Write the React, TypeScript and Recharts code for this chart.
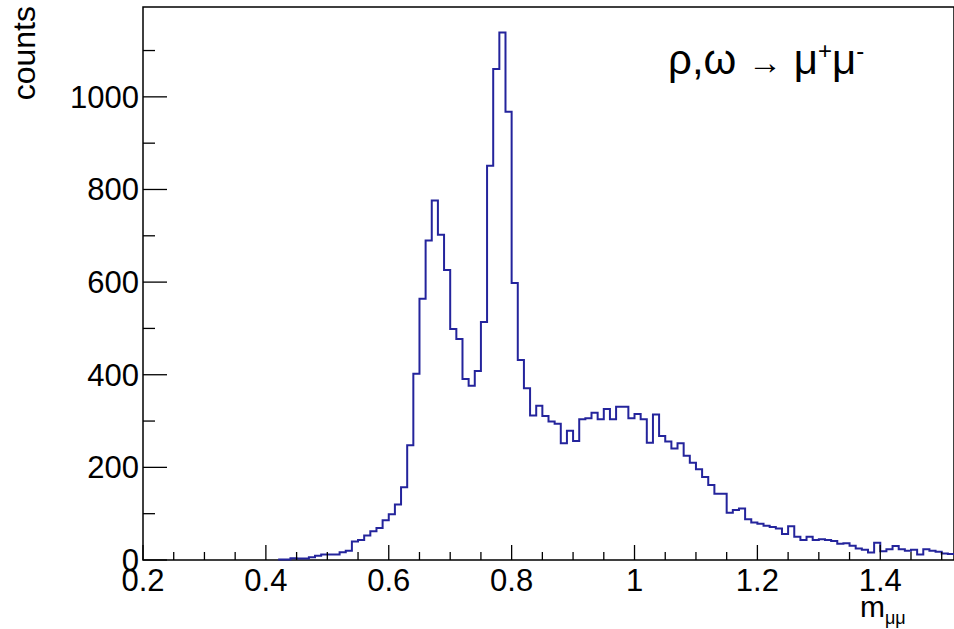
import { LineChart, Line, XAxis, YAxis, ReferenceArea } from "recharts";

// bin lower edges start at 0.42, width 0.01
const binStart = 0.42;
const binWidth = 0.01;
const counts = [
  1, 1, 4, 3, 3, 6, 9, 12, 12, 12, 17, 20, 40, 43, 53, 62, 69, 86, 99, 120,
  157, 248, 402, 564, 690, 776, 702, 626, 499, 477, 391, 376, 408, 514, 851, 1060, 1139, 968, 598, 432,
  371, 312, 333, 311, 299, 294, 252, 279, 257, 304, 306, 318, 304, 326, 304, 331, 331, 306, 315, 304,
  253, 314, 268, 256, 241, 252, 225, 210, 196, 179, 162, 143, 143, 102, 108, 111, 88, 81, 78, 74,
  71, 68, 56, 73, 50, 43, 50, 43, 45, 43, 41, 35, 36, 31, 25, 22, 16, 37, 19, 23,
  30, 23, 20, 22, 12, 23, 20, 18, 14, 13,
];

const majorX = [0.2, 0.4, 0.6, 0.8, 1.0, 1.2, 1.4];
const minorX = [0.25, 0.3, 0.35, 0.45, 0.5, 0.55, 0.65, 0.7, 0.75, 0.85, 0.9, 0.95, 1.05, 1.1, 1.15, 1.25, 1.3, 1.35, 1.45, 1.5];
const majorY = [0, 200, 400, 600, 800, 1000];
const minorY = [100, 300, 500, 700, 900, 1100];

const data = counts.map((c, i) => ({ x: +(binStart + i * binWidth).toFixed(2), y: c }));
data.push({ x: +(binStart + counts.length * binWidth).toFixed(2), y: counts[counts.length - 1] });

const W = 954;
const H = 629;
const LEFT = 143;
const TOP = 7;
const BOTTOM = 560;
const FONT = "'Liberation Sans', Arial, sans-serif";
const BLUE = "#24249c";

const isMajor = (v: number, list: number[]) => list.some((m) => Math.abs(m - v) < 1e-6);

function XTick(props: any) {
  const { x, payload } = props;
  const major = isMajor(payload.value, majorX);
  return (
    <g>
      <line x1={x} x2={x} y1={BOTTOM} y2={BOTTOM - (major ? 15 : 8)} stroke="#000" strokeWidth={1.3} />
      {major && (
        <text x={x} y={BOTTOM + 31} textAnchor="middle" fontSize={31} fontFamily={FONT} fill="#000">
          {payload.value === 1 ? "1" : payload.value}
        </text>
      )}
    </g>
  );
}

function YTick(props: any) {
  const { y, payload } = props;
  const major = isMajor(payload.value, majorY);
  return (
    <g>
      <line x1={LEFT} x2={LEFT + (major ? 24 : 12)} y1={y} y2={y} stroke="#000" strokeWidth={1.3} />
      {major && (
        <text x={LEFT - 4} y={y + 11} textAnchor="end" fontSize={31} fontFamily={FONT} fill="#000">
          {payload.value}
        </text>
      )}
    </g>
  );
}

export default function App() {
  return (
    <div style={{ position: "absolute", left: 0, top: 0, width: W, height: H, background: "#fff" }}>
      <LineChart width={W} height={H} data={data} margin={{ top: TOP, right: 0, bottom: 0, left: 0 }}>
        <XAxis
          dataKey="x"
          type="number"
          domain={[0.2, 1.52]}
          ticks={[...majorX, ...minorX]}
          tick={<XTick />}
          tickLine={false}
          axisLine={false}
          height={H - BOTTOM}
          interval={0}
        />
        <YAxis
          type="number"
          domain={[0, 1194]}
          ticks={[...majorY, ...minorY]}
          tick={<YTick />}
          tickLine={false}
          axisLine={false}
          width={LEFT}
          interval={0}
        />
        <ReferenceArea x1={0.2} x2={1.52} y1={0} y2={1194} fill="none" stroke="#000" strokeWidth={1.5} ifOverflow="visible" />
        <Line
          type="stepAfter"
          dataKey="y"
          stroke={BLUE}
          strokeWidth={2}
          dot={false}
          isAnimationActive={false}
        />
      </LineChart>
      <div
        style={{
          position: "absolute",
          left: 6,
          top: 6,
          transform: "rotate(-90deg) translateX(-100%)",
          transformOrigin: "top left",
          fontFamily: FONT,
          fontSize: 32,
          lineHeight: "36px",
          whiteSpace: "nowrap",
        }}
      >
        counts
      </div>
      <div style={{ position: "absolute", left: 860, top: 592, fontFamily: FONT, fontSize: 30, lineHeight: "30px", whiteSpace: "nowrap" }}>
        m<sub style={{ fontSize: 18 }}>μμ</sub>
      </div>
      <div style={{ position: "absolute", left: 668, top: 36, fontFamily: FONT, fontSize: 42, whiteSpace: "nowrap" }}>
        ρ,ω <span style={{ fontSize: 34 }}>→</span> μ<sup style={{ fontSize: 24 }}>+</sup>μ<sup style={{ fontSize: 24 }}>-</sup>
      </div>
    </div>
  );
}
